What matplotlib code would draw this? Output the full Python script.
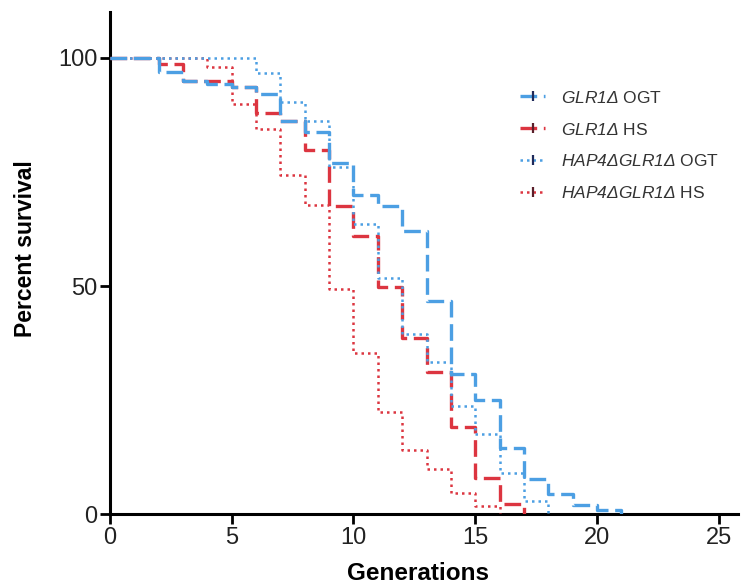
import matplotlib
matplotlib.use("Agg")
import matplotlib.pyplot as plt
from matplotlib.lines import Line2D

plt.rcParams['font.family'] = ['Liberation Sans', 'DejaVu Sans']
plt.rcParams['mathtext.fontset'] = 'custom'
plt.rcParams['mathtext.rm'] = 'Liberation Sans:italic'
plt.rcParams['mathtext.it'] = 'Liberation Sans:italic'

# Data (step survival curves; value holds from each generation until the next)
glr1_ogt_gen = [0, 2, 3, 4, 5, 6, 7, 8, 9, 10, 11, 12, 13, 14, 15, 16, 17, 18, 19, 20, 21]
glr1_ogt_val = [100, 97, 95, 94.4, 93.7, 92, 86.2, 83.8, 77, 70, 67.5, 62, 46.8, 30.8, 25, 14.6, 7.8, 4.5, 2, 1, 0]

glr1_hs_gen = [0, 2, 3, 5, 6, 7, 8, 9, 10, 11, 12, 13, 14, 15, 16, 17]
glr1_hs_val = [100, 98.7, 95, 93.7, 88, 86.2, 79.8, 67.5, 61, 49.7, 38.7, 31.2, 19.1, 8, 2.3, 0]

hap4_ogt_gen = [0, 6, 7, 8, 9, 10, 11, 12, 13, 14, 15, 16, 17, 18]
hap4_ogt_val = [100, 96.7, 90.4, 86.2, 76, 63.5, 51.8, 39.5, 33.3, 23.7, 17.6, 9, 2.9, 0]

hap4_hs_gen = [0, 4, 5, 6, 7, 8, 9, 10, 11, 12, 13, 14, 15, 16]
hap4_hs_val = [100, 98.1, 90, 84.5, 74.3, 67.7, 49.3, 35.3, 22.3, 14, 9.8, 4.7, 1.7, 0]

labels = [r"$GLR1Δ$ OGT", r"$GLR1Δ$ HS",
          r"$HAP4ΔGLR1Δ$ OGT", r"$HAP4ΔGLR1Δ$ HS"]

blue = '#4c9fe3'
red = '#dc3540'

fig = plt.figure(figsize=(7.48, 5.87), dpi=100)
ax = fig.add_axes([0.147, 0.124, 0.84, 0.855])

dash = (0, (5, 2))
dot = (0, (1, 1.6))
series = [
    (glr1_ogt_gen, glr1_ogt_val, blue, dash, 2.4, 4),
    (glr1_hs_gen, glr1_hs_val, red, dash, 2.4, 3),
    (hap4_ogt_gen, hap4_ogt_val, blue, dot, 1.8, 3.5),
    (hap4_hs_gen, hap4_hs_val, red, dot, 1.8, 3),
]
handles = []
for (g, v, c, ls, lw, z), lab in zip(series, labels):
    ax.step(g, v, where='post', color=c, linestyle=ls, linewidth=lw, zorder=z)
    handles.append(Line2D([], [], color=c, linestyle=ls, linewidth=lw,
                          marker='|', markersize=7, markeredgewidth=1.6,
                          markeredgecolor='#1f2a5a' if c == blue else '#5a1f2a',
                          label=lab))

ax.set_xlim(0, 25.8)
ax.set_ylim(0, 110)
ax.set_xticks([0, 5, 10, 15, 20, 25])
ax.set_yticks([0, 50, 100])
ax.spines['top'].set_visible(False)
ax.spines['right'].set_visible(False)
for s in ('left', 'bottom'):
    ax.spines[s].set_linewidth(2.2)
ax.tick_params(axis='both', direction='out', length=7, width=2.0,
               labelsize=17, colors='black', labelcolor='#222222', pad=2)
ax.set_xlabel('Generations', fontsize=17.5, fontweight='bold')
ax.set_ylabel('Percent survival', fontsize=16.5, fontweight='bold')
ax.xaxis.set_label_coords(0.49, -0.096)
ax.yaxis.set_label_coords(-0.116, 0.53)

leg = ax.legend(handles=handles, loc='upper left', bbox_to_anchor=(0.642, 0.86),
                frameon=False, fontsize=12.5, handlelength=1.45, handletextpad=0.9,
                labelspacing=0.92, numpoints=1, borderaxespad=0)
for t in leg.get_texts():
    t.set_color('#333333')

fig.savefig('out.png', dpi=100)
